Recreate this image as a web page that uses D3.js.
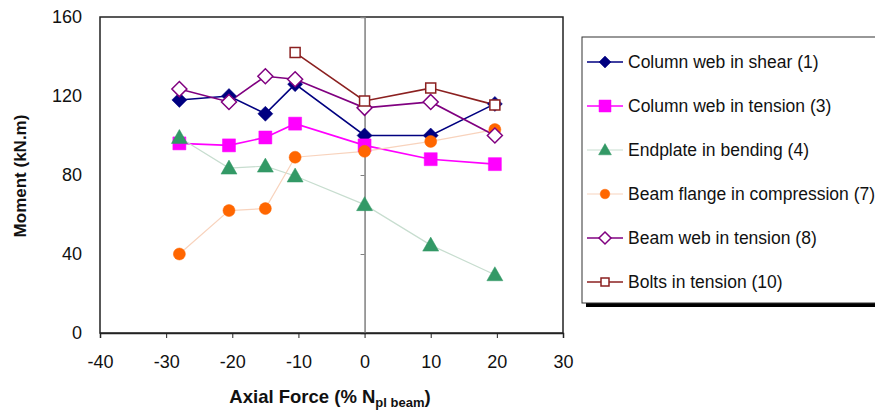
<!DOCTYPE html>
<html>
<head>
<meta charset="utf-8">
<script src="https://cdn.jsdelivr.net/npm/d3@7"></script>
<style>
  html, body { margin: 0; padding: 0; background: #fff; }
  svg { display: block; font-family: "Liberation Sans", Arial, sans-serif; }
</style>
</head>
<body>
<svg id="chart" width="875" height="410"></svg>
<script>
// Axial force levels (% of beam plastic resistance)
const axialForce = [-28, -20.5, -15, -10.5, 0, 10, 19.7];
const axialForceBolts = [-10.5, 0, 10, 19.7];

// Component resistances (kN.m)
const columnWebShear   = [118, 120, 111, 126, 100, 100, 116];
const columnWebTension = [96, 95, 99, 106, 95, 88, 85.5];
const endplateBending  = [99, 83.5, 84.5, 79.5, 65, 44.5, 29.5];
const beamFlangeComp   = [40, 62, 63, 89, 92, 97, 103];
const beamWebTension   = [123.5, 117, 130, 128.5, 114, 117, 100];
const boltsTension     = [142, 117.5, 124, 115.5];

const xTicks = [-40, -30, -20, -10, 0, 10, 20, 30];
const yTicks = [0, 40, 80, 120, 160];

const seriesNames = [
  "Column web in shear (1)",
  "Column web in tension (3)",
  "Endplate in bending (4)",
  "Beam flange in compression (7)",
  "Beam web in tension (8)",
  "Bolts in tension (10)"
];

const series = [
  { name: seriesNames[0], xs: axialForce, ys: columnWebShear, line: "#000080", lw: 1.6, marker: "diamond", fill: "#000080", stroke: "#000080", size: 7.5 },
  { name: seriesNames[1], xs: axialForce, ys: columnWebTension, line: "#ff00ff", lw: 1.6, marker: "square", fill: "#ff00ff", stroke: "#ff00ff", size: 6.5 },
  { name: seriesNames[2], xs: axialForce, ys: endplateBending, line: "#c7ddcf", lw: 1.2, marker: "triangle", fill: "#339966", stroke: "#339966", size: 8 },
  { name: seriesNames[3], xs: axialForce, ys: beamFlangeComp, line: "#f8d3bd", lw: 1.2, marker: "circle", fill: "#ff6600", stroke: "#ff6600", size: 6 },
  { name: seriesNames[4], xs: axialForce, ys: beamWebTension, line: "#800080", lw: 1.6, marker: "diamond", fill: "#ffffff", stroke: "#800080", size: 7.5 },
  { name: seriesNames[5], xs: axialForceBolts, ys: boltsTension, line: "#8b2020", lw: 1.6, marker: "square", fill: "#ffffff", stroke: "#8b2020", size: 5 }
];

const svg = d3.select("#chart");
const plot = { left: 100, right: 563, top: 17, bottom: 333 };

const x = d3.scaleLinear().domain([-40, 30]).range([plot.left, plot.right]);
const y = d3.scaleLinear().domain([0, 160]).range([plot.bottom, plot.top]);

// Plot area frame
svg.append("rect")
  .attr("x", plot.left).attr("y", plot.top)
  .attr("width", plot.right - plot.left).attr("height", plot.bottom - plot.top)
  .attr("fill", "none").attr("stroke", "#222").attr("stroke-width", 1.5);

// Vertical axis line crossing at zero axial force
const yAxis = d3.axisLeft(y).tickValues(yTicks).tickSize(4).tickFormat("");
const yAxisG = svg.append("g").attr("transform", `translate(${x(0)},0)`).call(yAxis);
yAxisG.select(".domain").attr("stroke", "#808080").attr("stroke-width", 1.5);
yAxisG.selectAll(".tick line").attr("stroke", "#808080");

// Y tick labels at the left edge
svg.append("g").selectAll("text").data(yTicks).join("text")
  .attr("x", 82).attr("y", d => y(d)).attr("dy", "0.35em")
  .attr("text-anchor", "end").attr("font-size", 18).attr("fill", "#111")
  .text(d => d);

// Bottom axis
const xAxis = d3.axisBottom(x).tickValues(xTicks).tickSize(5).tickPadding(17)
  .tickFormat(d => String(d));
const xAxisG = svg.append("g").attr("transform", `translate(0,${plot.bottom})`).call(xAxis);
xAxisG.select(".domain").attr("stroke", "#222").attr("stroke-width", 1.5);
xAxisG.selectAll(".tick line").attr("stroke", "#222");
xAxisG.selectAll(".tick text").attr("font-size", 18).attr("fill", "#111")
  .attr("font-family", "Liberation Sans, Arial, sans-serif");

// Axis titles
const xt = svg.append("text")
  .attr("x", 330).attr("y", 403)
  .attr("text-anchor", "middle").attr("font-size", 18.5).attr("font-weight", "bold").attr("fill", "#111");
xt.append("tspan").text("Axial Force (% N");
xt.append("tspan").attr("font-size", 13).attr("dy", 4).text("pl beam");
xt.append("tspan").attr("dy", -4).text(")");

svg.append("text")
  .attr("transform", "translate(26,176) rotate(-90)")
  .attr("text-anchor", "middle").attr("font-size", 17).attr("font-weight", "bold").attr("fill", "#111")
  .text("Moment (kN.m)");

// Marker shapes
function markerPath(type, s) {
  switch (type) {
    case "diamond": return `M0,${-s}L${s},0L0,${s}L${-s},0Z`;
    case "square": return `M${-s},${-s}H${s}V${s}H${-s}Z`;
    case "triangle": return `M0,${-s}L${s},${s * 0.75}L${-s},${s * 0.75}Z`;
    case "circle": return d3.symbol(d3.symbolCircle, Math.PI * s * s)();
  }
}

const lineGen = d3.line();

// Lines first, then markers on top
series.forEach(s => {
  const pts = s.xs.map((v, i) => [x(v), y(s.ys[i])]);
  svg.append("path").attr("d", lineGen(pts))
    .attr("fill", "none").attr("stroke", s.line).attr("stroke-width", s.lw);
});
series.forEach(s => {
  svg.append("g").selectAll("path").data(s.xs.map((v, i) => [v, s.ys[i]])).join("path")
    .attr("transform", d => `translate(${x(d[0])},${y(d[1])})`)
    .attr("d", markerPath(s.marker, s.size))
    .attr("fill", s.fill).attr("stroke", s.stroke)
    .attr("stroke-width", s.fill === "#ffffff" ? 1.5 : 0.5);
});

// Legend box with shadow
const lg = { x: 582, y: 37, w: 320, h: 266 };
svg.append("rect").attr("x", lg.x + 4).attr("y", lg.y + 4).attr("width", lg.w).attr("height", lg.h).attr("fill", "#000");
svg.append("rect").attr("x", lg.x).attr("y", lg.y).attr("width", lg.w).attr("height", lg.h)
  .attr("fill", "#fff").attr("stroke", "#333").attr("stroke-width", 1);

const legendY = d3.scaleLinear().domain([0, 5]).range([62, 282]);
series.forEach((s, i) => {
  const cy = legendY(i);
  svg.append("line").attr("x1", 587).attr("x2", 623).attr("y1", cy).attr("y2", cy)
    .attr("stroke", s.line).attr("stroke-width", s.lw);
  svg.append("path").attr("transform", `translate(605,${cy})`)
    .attr("d", markerPath(s.marker, s.marker === "square" && s.fill !== "#ffffff" ? 6 : s.size * 0.8))
    .attr("fill", s.fill).attr("stroke", s.stroke)
    .attr("stroke-width", s.fill === "#ffffff" ? 1.5 : 0.5);
  svg.append("text").attr("x", 628).attr("y", cy).attr("dy", "0.35em")
    .attr("font-size", 17.5).attr("fill", "#111").text(s.name);
});
</script>
</body>
</html>
